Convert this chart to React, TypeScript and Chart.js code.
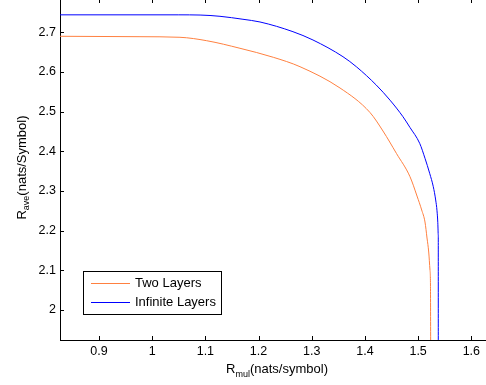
import React, { useEffect, useRef } from "react";
import { Chart, registerables } from "chart.js";

Chart.register(...registerables);

const FONT = '"Liberation Sans", Arial, Helvetica, sans-serif';

const xTicks = [0.9, 1.0, 1.1, 1.2, 1.3, 1.4, 1.5, 1.6];
const yTicks = [2.0, 2.1, 2.2, 2.3, 2.4, 2.5, 2.6, 2.7];

const xMin = 0.8267;
const xMax = 1.6276;
const yMin = 1.9244;
const yMax = 2.7814;

const twoLayersX = [0.82, 0.9771, 1.0523, 1.1025, 1.1651, 1.2277, 1.2779, 1.3531, 1.4095, 1.4339, 1.4593, 1.4847, 1.4979, 1.5067, 1.5129, 1.5167, 1.5199, 1.5223, 1.5232, 1.5236];
const twoLayersY = [2.69, 2.6889, 2.6874, 2.6788, 2.6597, 2.637, 2.6133, 2.5596, 2.4978, 2.4512, 2.3945, 2.336, 2.2873, 2.2521, 2.2218, 2.1815, 2.1462, 2.1008, 2.063, 1.9];

const infLayersX = [0.82, 1.05, 1.09, 1.1275, 1.1707, 1.2027, 1.2647, 1.3023, 1.3587, 1.3845, 1.4213, 1.4471, 1.4715, 1.4847, 1.5029, 1.5129, 1.5217, 1.5285, 1.533, 1.5355, 1.537, 1.5379, 1.5379];
const infLayersY = [2.744, 2.744, 2.7435, 2.7403, 2.7328, 2.726, 2.7015, 2.6806, 2.6385, 2.6125, 2.567, 2.529, 2.4872, 2.46, 2.4202, 2.3824, 2.3446, 2.3108, 2.2773, 2.25, 2.22, 2.189, 1.9];

const seriesLabels = ["Two Layers", "Infinite Layers"];
const seriesColors = ["#FF8040", "#0000FF"];

const fmt = (v: number) => String(Math.round(v * 10) / 10);

const decorPlugin = {
  id: "decor",
  afterDraw(chart: any) {
    const ctx = chart.ctx as CanvasRenderingContext2D;
    const { left, top, bottom } = chart.chartArea;
    const xs = chart.scales.x;
    const ys = chart.scales.y;
    ctx.save();
    ctx.strokeStyle = "#000";
    ctx.lineWidth = 1;
    ctx.beginPath();
    xTicks.forEach((v) => {
      const p = Math.round(xs.getPixelForValue(v)) + 0.5;
      ctx.moveTo(p, bottom);
      ctx.lineTo(p, bottom - 4);
      ctx.moveTo(p, top);
      ctx.lineTo(p, top + 3);
    });
    yTicks.forEach((v) => {
      const p = Math.round(ys.getPixelForValue(v)) + 0.5;
      ctx.moveTo(left, p);
      ctx.lineTo(left + 4, p);
    });
    ctx.stroke();

    ctx.fillStyle = "#000";
    ctx.textBaseline = "alphabetic";
    ctx.textAlign = "left";
    const big = `13px ${FONT}`;
    const small = `9px ${FONT}`;
    ctx.font = big;
    const wR = ctx.measureText("R").width;
    const wRest = ctx.measureText("(nats/symbol)").width;
    ctx.font = small;
    const wSub = ctx.measureText("mul").width;
    const totalX = wR + wSub + wRest;
    let sx = 277 - totalX / 2;
    const by = 372.5;
    ctx.font = big;
    ctx.fillText("R", sx, by);
    sx += wR;
    ctx.font = small;
    ctx.fillText("mul", sx, by + 4.5);
    sx += wSub;
    ctx.font = big;
    ctx.fillText("(nats/symbol)", sx, by);

    ctx.save();
    ctx.translate(25.5, 167.5);
    ctx.rotate(-Math.PI / 2);
    ctx.font = big;
    const wR2 = ctx.measureText("R").width;
    const wRest2 = ctx.measureText("(nats/Symbol)").width;
    ctx.font = small;
    const wSub2 = ctx.measureText("ave").width;
    const totalY = wR2 + wSub2 + wRest2;
    let tx = -totalY / 2;
    ctx.font = big;
    ctx.fillText("R", tx, 0);
    tx += wR2;
    ctx.font = small;
    ctx.fillText("ave", tx, 3.5);
    tx += wSub2;
    ctx.font = big;
    ctx.fillText("(nats/Symbol)", tx, 0);
    ctx.restore();

    const bx = 83.5, byTop = 271.5, bw = 138, bh = 43;
    ctx.fillStyle = "#fff";
    ctx.fillRect(bx, byTop, bw, bh);
    ctx.strokeStyle = "#000";
    ctx.lineWidth = 1;
    ctx.strokeRect(bx, byTop, bw, bh);
    const rows = [283, 302];
    ctx.font = big;
    ctx.textBaseline = "middle";
    seriesLabels.forEach((lab, i) => {
      const yy = rows[i] + 0.5;
      ctx.strokeStyle = seriesColors[i];
      ctx.beginPath();
      ctx.moveTo(91, yy);
      ctx.lineTo(130, yy);
      ctx.stroke();
      ctx.fillStyle = "#000";
      ctx.fillText(lab, 135, rows[i] + 0.5);
    });
    ctx.restore();
  },
};

export default function App() {
  const ref = useRef<HTMLCanvasElement>(null);
  useEffect(() => {
    if (!ref.current) return;
    const chart = new Chart(ref.current, {
      type: "scatter",
      data: {
        datasets: [
          {
            label: seriesLabels[0],
            data: twoLayersX.map((x, i) => ({ x, y: twoLayersY[i] })),
            borderColor: seriesColors[0],
            backgroundColor: seriesColors[0],
            borderWidth: 1,
            showLine: true,
            pointRadius: 0,
            cubicInterpolationMode: "monotone",
          },
          {
            label: seriesLabels[1],
            data: infLayersX.map((x, i) => ({ x, y: infLayersY[i] })),
            borderColor: seriesColors[1],
            backgroundColor: seriesColors[1],
            borderWidth: 1,
            showLine: true,
            pointRadius: 0,
            cubicInterpolationMode: "monotone",
          },
        ],
      },
      options: {
        responsive: false,
        animation: false,
        layout: { padding: 0 },
        plugins: { legend: { display: false }, tooltip: { enabled: false }, title: { display: false } },
        scales: {
          x: {
            type: "linear",
            min: xMin,
            max: xMax,
            afterBuildTicks: (s: any) => {
              s.ticks = xTicks.map((v) => ({ value: v }));
            },
            afterFit: (s: any) => {
              s.height = 45;
              s.paddingLeft = 0;
              s.paddingRight = 0;
            },
            grid: { display: false, drawTicks: false },
            border: { display: true, color: "#000", width: 1 },
            ticks: {
              padding: 4,
              color: "#000",
              font: { family: FONT, size: 12.5 },
              maxRotation: 0,
              autoSkip: false,
              callback: (v: any) => fmt(Number(v)),
            },
          },
          y: {
            type: "linear",
            min: yMin,
            max: yMax,
            afterBuildTicks: (s: any) => {
              s.ticks = yTicks.map((v) => ({ value: v }));
            },
            afterFit: (s: any) => {
              s.width = 60;
              s.paddingTop = 0;
              s.paddingBottom = 0;
            },
            grid: { display: false, drawTicks: false },
            border: { display: true, color: "#000", width: 1 },
            ticks: {
              padding: 4,
              color: "#000",
              font: { family: FONT, size: 12.5 },
              autoSkip: false,
              callback: (v: any) => fmt(Number(v)),
            },
          },
        },
      },
      plugins: [decorPlugin],
    });
    return () => chart.destroy();
  }, []);
  return (
    <div style={{ position: "fixed", left: 0, top: 0, width: 486, height: 385, background: "#fff" }}>
      <canvas ref={ref} width={486} height={385} style={{ display: "block" }} />
    </div>
  );
}
